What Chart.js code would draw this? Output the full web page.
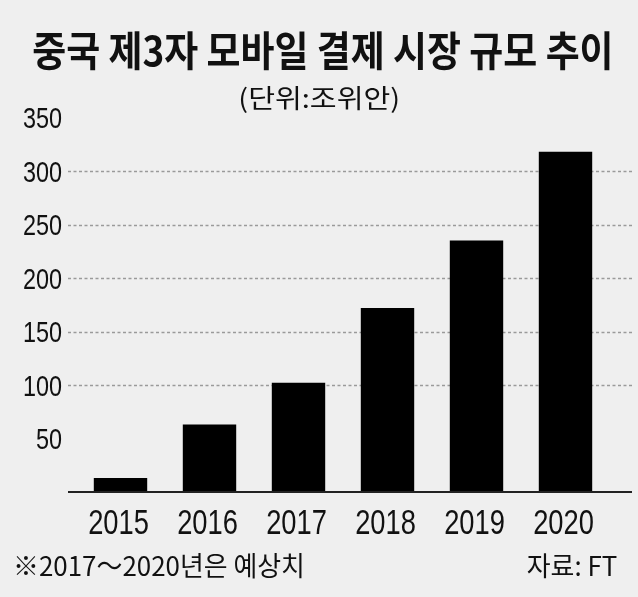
<!DOCTYPE html>
<html><head><meta charset="utf-8">
<script src="https://cdn.jsdelivr.net/npm/chart.js@4"></script>
<style>
html,body{margin:0;padding:0;background:#efefef;}
#wrap{position:relative;width:638px;height:597px;background:#efefef;overflow:hidden;}
.t{position:absolute;left:0;width:638px;text-align:center;white-space:nowrap;color:#111;}
.t span{display:inline-block;}
#title{top:28px;left:0;font:700 41px/41px "Noto Sans CJK KR";}
#title span{transform:scaleX(0.9);}
#sub{top:84px;font:400 26px/26px "Noto Sans CJK KR";}
#sub span{transform:scaleX(1.12);}
#note{position:absolute;left:13px;top:551px;font:400 27px/27px "Noto Sans CJK KR";white-space:nowrap;transform:scaleX(0.96);transform-origin:left top;color:#111;}
#src{position:absolute;right:21px;top:551px;font:400 27px/27px "Noto Sans CJK KR";white-space:nowrap;transform:scaleX(0.96);transform-origin:right top;color:#111;}
canvas{position:absolute;left:0;top:0;}
</style></head>
<body><div id="wrap">
<canvas id="c" width="638" height="597"></canvas>
<div class="t" id="title"><span>중국 제3자 모바일 결제 시장 규모 추이</span></div>
<div class="t" id="sub"><span>(단위:조위안)</span></div>
<div id="note">※2017～2020년은 예상치</div>
<div id="src">자료: FT</div>
</div>
<script>
const categories = ['2015','2016','2017','2018','2019','2020'];
const values = [13, 63, 102, 172, 235, 318];
const yTicks = [50, 100, 150, 200, 250, 300, 350];
const gridValues = [100, 150, 200, 250, 300];

const gridPlugin = {
  id: 'gridPlugin',
  beforeDatasetsDraw(chart) {
    const ctx = chart.ctx, y = chart.scales.y;
    ctx.save();
    ctx.strokeStyle = '#9a9a9a';
    ctx.lineWidth = 1.5;
    ctx.setLineDash([3, 2.5]);
    gridValues.forEach(v => {
      const py = Math.round(y.getPixelForValue(v)) + 0.5;
      ctx.beginPath(); ctx.moveTo(68, py); ctx.lineTo(632, py); ctx.stroke();
    });
    ctx.restore();
  },
  afterDatasetsDraw(chart) {
    const ctx = chart.ctx, x = chart.scales.x, y = chart.scales.y;
    const py = y.getPixelForValue(0);
    ctx.save();
    ctx.strokeStyle = '#222';
    ctx.lineWidth = 2;
    ctx.beginPath(); ctx.moveTo(68, py); ctx.lineTo(632, py); ctx.stroke();
    ctx.fillStyle = '#111';
    ctx.textBaseline = 'alphabetic';
    ctx.font = '35px "Liberation Sans"';
    ctx.textAlign = 'center';
    categories.forEach((c, i) => {
      ctx.save();
      ctx.translate(x.getPixelForTick(i) - 2, py + 41.5);
      ctx.scale(0.78, 1);
      ctx.fillText(c, 0, 0);
      ctx.restore();
    });
    ctx.font = '30px "Liberation Sans"';
    ctx.textAlign = 'right';
    yTicks.forEach(v => {
      ctx.save();
      ctx.translate(62, y.getPixelForValue(v) + 10.8);
      ctx.scale(0.78, 1);
      ctx.fillText(String(v), 0, 0);
      ctx.restore();
    });
    ctx.restore();
  }
};

new Chart(document.getElementById('c'), {
  type: 'bar',
  data: {
    labels: categories,
    datasets: [{ data: values, backgroundColor: '#000', borderWidth: 0, barPercentage: 0.6, categoryPercentage: 1 }]
  },
  options: {
    responsive: false,
    animation: false,
    layout: { padding: { top: 117.5, right: 28, left: 0, bottom: 0 } },
    plugins: { legend: { display: false }, tooltip: { enabled: false }, title: { display: false } },
    scales: {
      x: {
        grid: { display: false, drawTicks: false },
        border: { display: false },
        ticks: { display: false },
        afterFit(s) { s.height = 105; }
      },
      y: {
        min: 0, max: 350,
        grid: { display: false, drawTicks: false },
        border: { display: false },
        afterBuildTicks(s) { s.ticks = yTicks.map(v => ({ value: v })); },
        ticks: { display: false },
        afterFit(s) { s.width = 76; }
      }
    }
  },
  plugins: [gridPlugin]
});
</script>
</body></html>
